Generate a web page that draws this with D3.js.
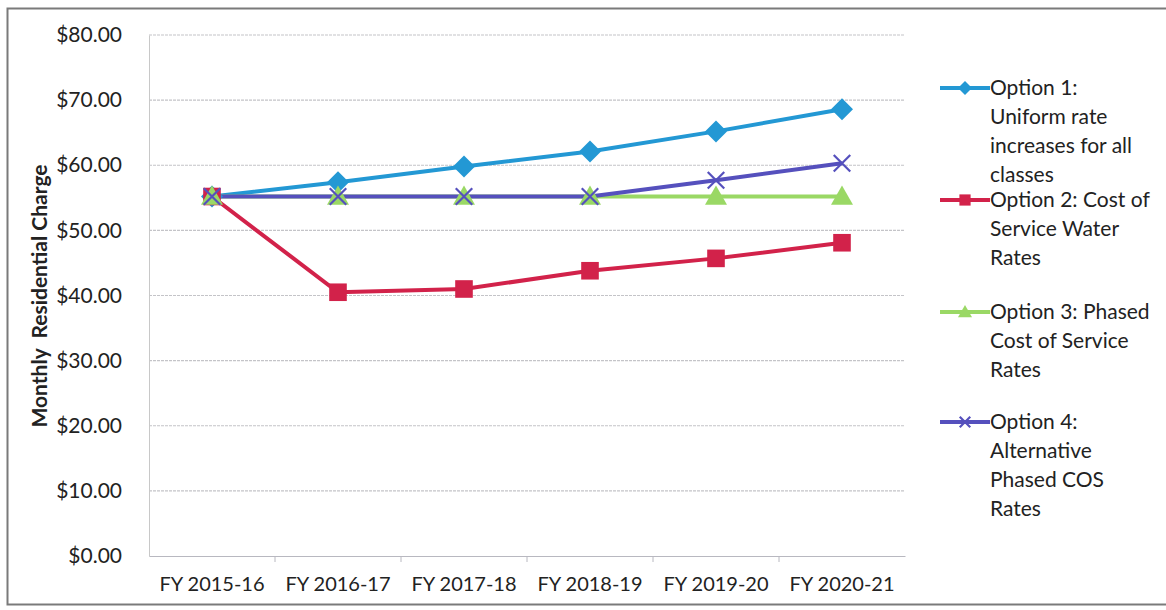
<!DOCTYPE html>
<html>
<head>
<meta charset="utf-8">
<script src="https://cdn.jsdelivr.net/npm/d3@7"></script>
<style>
  body { margin: 0; background: #fff; }
  text { font-family: Lato, "Open Sans", sans-serif; fill: #222; }
</style>
</head>
<body>
<div id="viz-container"></div>
<script>
let years = ["FY 2015-16", "FY 2016-17", "FY 2017-18", "FY 2018-19", "FY 2019-20", "FY 2020-21"];
let option1 = [55.2, 57.4, 59.8, 62.1, 65.2, 68.6];
let option2 = [55.2, 40.5, 41.0, 43.8, 45.7, 48.1];
let option3 = [55.2, 55.2, 55.2, 55.2, 55.2, 55.2];
let option4 = [55.2, 55.2, 55.2, 55.2, 57.7, 60.3];
let yTicks = [0, 10, 20, 30, 40, 50, 60, 70, 80];

let series = [
    {name: ["Option 1:", "Uniform rate", "increases for all", "classes"], values: option1, color: "#2398d4", marker: "diamond"},
    {name: ["Option 2: Cost of", "Service Water", "Rates"], values: option2, color: "#d2224a", marker: "square"},
    {name: ["Option 3: Phased", "Cost of Service", "Rates"], values: option3, color: "#9ad865", marker: "triangle"},
    {name: ["Option 4:", "Alternative", "Phased COS", "Rates"], values: option4, color: "#5550bd", marker: "x"}
];

let width = 1166, height = 610;
let viz = d3.select("#viz-container")
    .append("svg")
        .attr("width", width)
        .attr("height", height);

// outer frame
viz.append("rect")
    .attr("x", 7.5).attr("y", 8.5)
    .attr("width", 1170).attr("height", 596)
    .attr("fill", "none")
    .attr("stroke", "#7a7a7a")
    .attr("stroke-width", 2);

let x = d3.scaleBand().domain(years).range([149, 905]);
let y = d3.scaleLinear().domain([0, 80]).range([556, 35]);

// gridlines
viz.append("g")
    .selectAll("line").data(yTicks.slice(1)).enter()
    .append("line")
        .attr("x1", 149).attr("x2", 905)
        .attr("y1", d => y(d)).attr("y2", d => y(d))
        .attr("stroke", "#c4c4c8")
        .attr("stroke-width", 1.2)
        .attr("stroke-dasharray", "3,1");

// y axis
let yAxis = viz.append("g")
    .attr("transform", "translate(149,0)")
    .call(d3.axisLeft(y).tickValues(yTicks).tickSize(0).tickPadding(27).tickFormat(d => "$" + d3.format(".2f")(d)));
yAxis.select(".domain").attr("stroke", "#c8c8c8");
yAxis.selectAll("text").attr("font-size", 21).style("font-family", "Lato, 'Open Sans', sans-serif").attr("fill", "#222");

// x axis
let xAxis = viz.append("g")
    .attr("transform", "translate(0,556)")
    .call(d3.axisBottom(x).tickSize(0).tickPadding(21));
xAxis.select(".domain").attr("stroke", "#b8b8c0");
xAxis.selectAll("text").attr("font-size", 20).style("font-family", "Lato, 'Open Sans', sans-serif").attr("fill", "#222");
viz.append("g").selectAll("line").data(years.slice(1)).enter()
    .append("line")
        .attr("x1", d => x(d)).attr("x2", d => x(d))
        .attr("y1", 556).attr("y2", 562)
        .attr("stroke", "#b8b8c0");

// y title
viz.append("text")
    .attr("transform", "translate(47,296) rotate(-90)")
    .attr("text-anchor", "middle")
    .attr("font-size", 21)
    .attr("font-weight", "bold")
    .attr("xml:space", "preserve")
    .text("Monthly  Residential Charge");

let line = d3.line()
    .x((d, i) => x(years[i]) + x.bandwidth() / 2)
    .y(d => y(d));

function drawMarker(g, type, color, size) {
    let s = size / 2;
    if (type === "diamond") {
        g.append("path").attr("d", `M0,${-s}L${s},0L0,${s}L${-s},0Z`)
            .attr("fill", color);
    } else if (type === "square") {
        g.append("rect").attr("x", -s * 0.8).attr("y", -s * 0.8)
            .attr("width", size * 0.8).attr("height", size * 0.8).attr("fill", color);
    } else if (type === "triangle") {
        g.append("path").attr("d", `M0,${-s}L${s},${s * 0.75}L${-s},${s * 0.75}Z`)
            .attr("fill", color);
    } else {
        let r = s * 0.75;
        g.append("path").attr("d", `M${-r},${-r}L${r},${r}M${-r},${r}L${r},${-r}`)
            .attr("stroke", color).attr("stroke-width", 2.2).attr("fill", "none");
    }
}

// draw series in order with later series on top
series.forEach(s => {
    viz.append("path")
        .datum(s.values)
        .attr("d", line)
        .attr("fill", "none")
        .attr("stroke", s.color)
        .attr("stroke-width", 4);
});
series.forEach(s => {
    s.values.forEach((v, i) => {
        let g = viz.append("g")
            .attr("transform", `translate(${x(years[i]) + x.bandwidth() / 2},${y(v)})`);
        drawMarker(g, s.marker, s.color, 22);
    });
});

// legend
let legendY = [88, 200, 312, 422];
series.forEach((s, k) => {
    let g = viz.append("g").attr("transform", `translate(940,${legendY[k]})`);
    g.append("line").attr("x1", 0).attr("x2", 50).attr("y1", 0).attr("y2", 0)
        .attr("stroke", s.color).attr("stroke-width", 4);
    let mg = g.append("g").attr("transform", "translate(25,0)");
    drawMarker(mg, s.marker, s.color, 14);
    s.name.forEach((t, j) => {
        g.append("text")
            .attr("x", 50)
            .attr("y", j * 29 + 7)
            .attr("font-size", 21)
            .text(t);
    });
});
</script>
</body>
</html>
